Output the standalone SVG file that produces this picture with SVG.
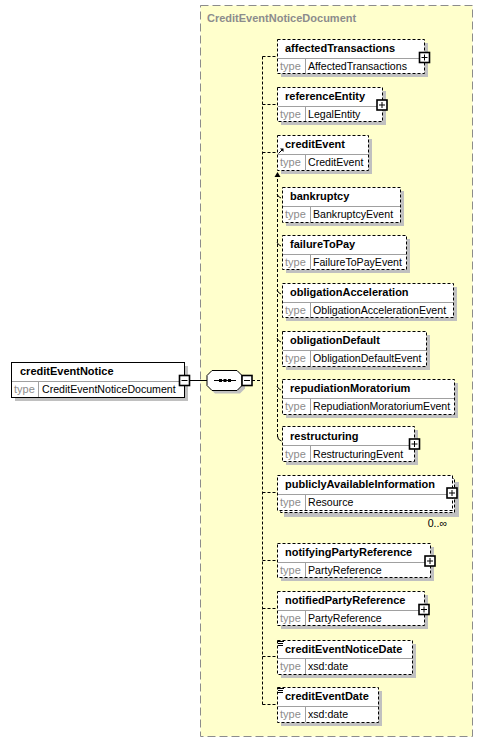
<svg xmlns="http://www.w3.org/2000/svg" xmlns:xlink="http://www.w3.org/1999/xlink" width="483" height="743" viewBox="0 0 483 743">
<style>
.bg{fill:#ffffcc;stroke:#8c8c8c;stroke-width:1;stroke-dasharray:8,4}
.title{font-family:"Liberation Sans",Arial,sans-serif;font-size:11px;font-weight:bold;fill:#8c8c8c}
.sh{fill:#c0c0c0}
.box{fill:#fff;stroke:#000;stroke-width:1;stroke-dasharray:3,2}
.sbox{fill:#fff;stroke:#000;stroke-width:1}
.div{stroke:#a0a0a0;stroke-width:1}
.name{font-family:"Liberation Sans",Arial,sans-serif;font-size:11px;font-weight:bold;fill:#000}
.tl{font-family:"Liberation Sans",Arial,sans-serif;font-size:11px;fill:#8c8c8c}
.tv{font-family:"Liberation Sans",Arial,sans-serif;font-size:10.6px;fill:#000}
.conn{stroke:#000;stroke-width:1;fill:none;stroke-dasharray:3,2}
.solid{stroke:#000;stroke-width:1;fill:none}
</style>
<defs>
<g id="plus"><rect x="-5" y="-5" width="10" height="10" fill="#fff" stroke="#000" stroke-width="1.6"/><path d="M-3,0H3M0,-3V3" stroke="#000" stroke-width="1"/></g>
<g id="minus"><rect x="-5" y="-5" width="10" height="10" fill="#fff" stroke="#000" stroke-width="1.6"/><path d="M-3,0H3" stroke="#000" stroke-width="1"/></g>
<g id="doc"><path d="M0,0H6M0,2H5M0,4H5" stroke="#000" stroke-width="1"/></g>
</defs>

<g id="container">
<rect class="bg" x="200.5" y="5.5" width="272" height="731"/>
<text class="title" x="207" y="22">CreditEventNoticeDocument</text>
</g>

<g id="connectors">
<path class="solid" d="M190,380.5H207"/>
<path class="conn" d="M252,380.5H262.5"/>
<path class="conn" d="M262.5,56.5V704.5"/>
<path class="conn" d="M262.5,56.5H277M262.5,104.5H277M262.5,152.5H277M262.5,492.5H277M262.5,560.5H277M262.5,608.5H277M262.5,656.5H277M262.5,704.5H277"/>
<path class="conn" d="M277.5,437V172"/>
<path d="M274.5,177L277.5,172L280.5,177Z" fill="#000"/>
<path class="solid" d="M277,194q1,3 4,4M277,242q1,3 4,4M277,290q1,3 4,4M277,338q1,3 4,4M277,386q1,3 4,4M277.5,436q0,4 4,5"/>
</g>

<g id="creditEventNotice">
<rect class="sh" x="15" y="366" width="173" height="35"/>
<rect class="sbox" x="11.5" y="362.5" width="173" height="35"/>
<line class="div" x1="12" y1="381.5" x2="184" y2="381.5"/>
<line class="div" x1="38.5" y1="382" x2="38.5" y2="397"/>
<text class="name" x="20" y="375">creditEventNotice</text>
<text class="tl" x="14" y="393">type</text>
<text class="tv" x="42" y="393">CreditEventNoticeDocument</text>
<use xlink:href="#minus" x="184.5" y="380.5"/>
</g>

<g id="sequence">
<polygon class="sh" points="215,373.5 240,373.5 245,378.5 245,388.5 240,393.5 215,393.5 210,388.5 210,378.5"/>
<polygon fill="#fff" stroke="#000" points="212,370.5 237,370.5 242,375.5 242,385.5 237,390.5 212,390.5 207,385.5 207,375.5"/>
<path d="M214,380.5H236" stroke="#000"/>
<rect x="219" y="379" width="3" height="3" fill="#000"/>
<rect x="223.5" y="379" width="3" height="3" fill="#000"/>
<rect x="228" y="379" width="3" height="3" fill="#000"/>
<use xlink:href="#minus" x="247" y="380.5"/>
</g>

<g id="affectedTransactions">
<rect class="sh" x="281" y="43" width="147" height="34"/>
<rect class="box" x="277.5" y="39.5" width="147" height="34"/>
<line class="div" x1="278" y1="58.5" x2="424" y2="58.5"/>
<line class="div" x1="305.5" y1="59" x2="305.5" y2="73"/>
<text class="name" x="285" y="52">affectedTransactions</text>
<text class="tl" x="280" y="70">type</text>
<text class="tv" x="308" y="70">AffectedTransactions</text>
<use xlink:href="#plus" x="424.5" y="57.5"/>
</g>

<g id="referenceEntity">
<rect class="sh" x="281" y="91" width="105" height="34"/>
<rect class="box" x="277.5" y="87.5" width="105" height="34"/>
<line class="div" x1="278" y1="106.5" x2="382" y2="106.5"/>
<line class="div" x1="305.5" y1="107" x2="305.5" y2="121"/>
<text class="name" x="285" y="100">referenceEntity</text>
<text class="tl" x="280" y="118">type</text>
<text class="tv" x="308" y="118">LegalEntity</text>
<use xlink:href="#plus" x="382" y="105"/>
</g>

<g id="creditEvent">
<rect class="sh" x="281" y="139" width="91" height="35"/>
<rect class="box" x="277.5" y="135.5" width="91" height="35"/>
<line class="div" x1="278" y1="154.5" x2="368" y2="154.5"/>
<line class="div" x1="305.5" y1="155" x2="305.5" y2="170"/>
<text class="name" x="285" y="148">creditEvent</text>
<text class="tl" x="280" y="166">type</text>
<text class="tv" x="308" y="166">CreditEvent</text>
<path d="M278.5,153.5L282.5,149.5" stroke="#000" stroke-width="1"/>
<path d="M280,148.5H283.5V152Z" fill="#000"/>
</g>

<g id="bankruptcy">
<rect class="sh" x="286" y="191" width="118" height="35"/>
<rect class="box" x="282.5" y="187.5" width="118" height="35"/>
<line class="div" x1="283" y1="206.5" x2="400" y2="206.5"/>
<line class="div" x1="310.5" y1="207" x2="310.5" y2="222"/>
<text class="name" x="290" y="200">bankruptcy</text>
<text class="tl" x="285" y="218">type</text>
<text class="tv" x="313" y="218">BankruptcyEvent</text>
</g>

<g id="failureToPay">
<rect class="sh" x="286" y="239" width="124" height="34"/>
<rect class="box" x="282.5" y="235.5" width="124" height="34"/>
<line class="div" x1="283" y1="254.5" x2="406" y2="254.5"/>
<line class="div" x1="310.5" y1="255" x2="310.5" y2="269"/>
<text class="name" x="290" y="248">failureToPay</text>
<text class="tl" x="285" y="266">type</text>
<text class="tv" x="313" y="266">FailureToPayEvent</text>
</g>

<g id="obligationAcceleration">
<rect class="sh" x="286" y="287" width="171" height="34"/>
<rect class="box" x="282.5" y="283.5" width="171" height="34"/>
<line class="div" x1="283" y1="302.5" x2="453" y2="302.5"/>
<line class="div" x1="310.5" y1="303" x2="310.5" y2="317"/>
<text class="name" x="290" y="296">obligationAcceleration</text>
<text class="tl" x="285" y="314">type</text>
<text class="tv" x="313" y="314">ObligationAccelerationEvent</text>
</g>

<g id="obligationDefault">
<rect class="sh" x="286" y="335" width="144" height="35"/>
<rect class="box" x="282.5" y="331.5" width="144" height="35"/>
<line class="div" x1="283" y1="350.5" x2="426" y2="350.5"/>
<line class="div" x1="310.5" y1="351" x2="310.5" y2="366"/>
<text class="name" x="290" y="344">obligationDefault</text>
<text class="tl" x="285" y="362">type</text>
<text class="tv" x="313" y="362">ObligationDefaultEvent</text>
</g>

<g id="repudiationMoratorium">
<rect class="sh" x="286" y="383" width="172" height="35"/>
<rect class="box" x="282.5" y="379.5" width="172" height="35"/>
<line class="div" x1="283" y1="398.5" x2="454" y2="398.5"/>
<line class="div" x1="310.5" y1="399" x2="310.5" y2="414"/>
<text class="name" x="290" y="392">repudiationMoratorium</text>
<text class="tl" x="285" y="410">type</text>
<text class="tv" x="313" y="410">RepudiationMoratoriumEvent</text>
</g>

<g id="restructuring">
<rect class="sh" x="286" y="430" width="132" height="35"/>
<rect class="box" x="282.5" y="426.5" width="132" height="35"/>
<line class="div" x1="283" y1="445.5" x2="414" y2="445.5"/>
<line class="div" x1="310.5" y1="446" x2="310.5" y2="461"/>
<text class="name" x="290" y="440">restructuring</text>
<text class="tl" x="285" y="458">type</text>
<text class="tv" x="313" y="458">RestructuringEvent</text>
<use xlink:href="#plus" x="414.5" y="444"/>
</g>

<g id="publiclyAvailableInformation">
<rect class="sh" x="284" y="482" width="175" height="35"/>
<rect class="box" x="280.5" y="478.5" width="174" height="34"/>
<rect class="box" x="277.5" y="475.5" width="175" height="35"/>
<line class="div" x1="278" y1="494.5" x2="452" y2="494.5"/>
<line class="div" x1="305.5" y1="495" x2="305.5" y2="510"/>
<text class="name" x="285" y="488">publiclyAvailableInformation</text>
<text class="tl" x="280" y="506">type</text>
<text class="tv" x="308" y="506">Resource</text>
<use xlink:href="#plus" x="452" y="493"/>
<text class="tv" x="447" y="527" text-anchor="end">0..∞</text>
</g>

<g id="notifyingPartyReference">
<rect class="sh" x="281" y="547" width="153" height="34"/>
<rect class="box" x="277.5" y="543.5" width="153" height="34"/>
<line class="div" x1="278" y1="562.5" x2="430" y2="562.5"/>
<line class="div" x1="305.5" y1="563" x2="305.5" y2="577"/>
<text class="name" x="285" y="556">notifyingPartyReference</text>
<text class="tl" x="280" y="574">type</text>
<text class="tv" x="308" y="574">PartyReference</text>
<use xlink:href="#plus" x="430" y="561"/>
</g>

<g id="notifiedPartyReference">
<rect class="sh" x="281" y="595" width="147" height="34"/>
<rect class="box" x="277.5" y="591.5" width="147" height="34"/>
<line class="div" x1="278" y1="610.5" x2="424" y2="610.5"/>
<line class="div" x1="305.5" y1="611" x2="305.5" y2="625"/>
<text class="name" x="285" y="604">notifiedPartyReference</text>
<text class="tl" x="280" y="622">type</text>
<text class="tv" x="308" y="622">PartyReference</text>
<use xlink:href="#plus" x="424" y="609.5"/>
</g>

<g id="creditEventNoticeDate">
<rect class="sh" x="281" y="644" width="135" height="34"/>
<rect class="box" x="277.5" y="640.5" width="135" height="34"/>
<line class="div" x1="278" y1="658.5" x2="412" y2="658.5"/>
<line class="div" x1="305.5" y1="659" x2="305.5" y2="674"/>
<text class="name" x="285" y="653">creditEventNoticeDate</text>
<text class="tl" x="280" y="670">type</text>
<text class="tv" x="308" y="670">xsd:date</text>
<use xlink:href="#doc" x="278" y="641.5"/>
</g>

<g id="creditEventDate">
<rect class="sh" x="281" y="691" width="101" height="35"/>
<rect class="box" x="277.5" y="687.5" width="101" height="35"/>
<line class="div" x1="278" y1="706.5" x2="378" y2="706.5"/>
<line class="div" x1="305.5" y1="707" x2="305.5" y2="722"/>
<text class="name" x="285" y="700">creditEventDate</text>
<text class="tl" x="280" y="718">type</text>
<text class="tv" x="308" y="718">xsd:date</text>
<use xlink:href="#doc" x="278" y="688.5"/>
</g>
</svg>
